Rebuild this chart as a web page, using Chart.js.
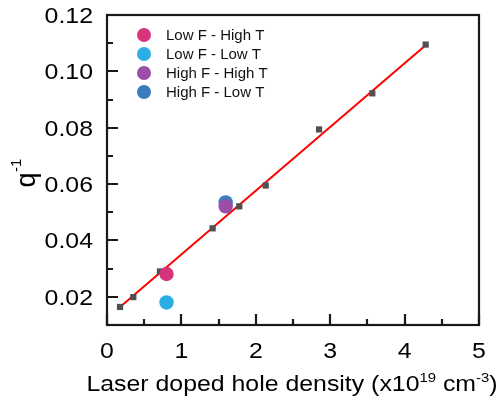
<!DOCTYPE html>
<html>
<head>
<meta charset="utf-8">
<script src="https://cdn.jsdelivr.net/npm/chart.js@4.4.0/dist/chart.umd.min.js"></script>
<style>
    html, body { margin: 0; padding: 0; background: #fff; }
    #wrap { width: 501px; height: 402px; position: relative; }
</style>
</head>
<body>
<div id="wrap"><canvas id="chart"></canvas></div>
<script>
// ============================================
// DATOS
// ============================================

// hole density (x10^19 cm^-3) and q^-1 of the reference samples
const refX = [0.175, 0.354, 0.712, 1.42, 1.778, 2.133, 2.85, 3.566, 4.283];
const refY = [0.0164, 0.0199, 0.029, 0.0443, 0.0521, 0.0595, 0.0794, 0.0922, 0.1095];

// linear fit, two ends
const fitX = [0.175, 4.283];
const fitY = [0.0164, 0.1093];

// coloured samples
const sampleLabels = ['Low F - High T', 'Low F - Low T', 'High F - High T', 'High F - Low T'];
const sampleX = [0.80, 0.80, 1.595, 1.595];
const sampleY = [0.0281, 0.018, 0.0521, 0.0535];
const sampleColors = ['#d6357b', '#2badE6', '#9a4ea9', '#3b7cbf'];

// axis ticks
const xTicks = [0, 1, 2, 3, 4, 5];
const xMinor = [0.5, 1.5, 2.5, 3.5, 4.5];
const yTicks = [0.02, 0.04, 0.06, 0.08, 0.10, 0.12];
const yMinor = [0.03, 0.05, 0.07, 0.09, 0.11];

const FONT = '"Liberation Sans", Arial, sans-serif';
const STRETCH = 1.13;
const AXIS_COLOR = 'rgb(25, 25, 25)';

// draw text with superscripts, parts = [[text, isSup], ...]
function drawRich(ctx, parts, x, y, size, align) {
    ctx.save();
    ctx.textBaseline = 'alphabetic';
    ctx.textAlign = 'left';
    let total = 0;
    parts.forEach(p => {
        ctx.font = (p[1] ? size * 0.6 : size) + 'px ' + FONT;
        total += ctx.measureText(p[0]).width;
    });
    ctx.translate(x, y);
    ctx.scale(STRETCH, 1);
    let cx = align === 'center' ? -total / 2 : 0;
    parts.forEach(p => {
        ctx.font = (p[1] ? size * 0.6 : size) + 'px ' + FONT;
        ctx.fillText(p[0], cx, p[1] ? -size * 0.42 : 0);
        cx += ctx.measureText(p[0]).width;
    });
    ctx.restore();
}

// ============================================
// PLUGINS
// ============================================

// frame and inward ticks, drawn under the marks
const axesPlugin = {
    id: 'axesFrame',
    beforeDatasetsDraw(chart) {
        const ctx = chart.ctx;
        const a = chart.chartArea;
        const xs = chart.scales.x;
        const ys = chart.scales.y;
        const L = Math.round(a.left), R = Math.round(a.right);
        const T = Math.round(a.top), B = Math.round(a.bottom);

        ctx.save();
        ctx.strokeStyle = AXIS_COLOR;
        ctx.lineWidth = 2.2;
        ctx.strokeRect(L, T, R - L, B - T);

        ctx.beginPath();
        xTicks.forEach(v => {
            const px = Math.round(xs.getPixelForValue(v));
            ctx.moveTo(px, B); ctx.lineTo(px, B - 11);
        });
        xMinor.forEach(v => {
            const px = Math.round(xs.getPixelForValue(v));
            ctx.moveTo(px, B); ctx.lineTo(px, B - 6);
        });
        yTicks.forEach(v => {
            const py = Math.round(ys.getPixelForValue(v));
            ctx.moveTo(L, py); ctx.lineTo(L + 11, py);
        });
        yMinor.forEach(v => {
            const py = Math.round(ys.getPixelForValue(v));
            ctx.moveTo(L, py); ctx.lineTo(L + 6, py);
        });
        ctx.stroke();
        ctx.restore();
    }
};

// tick labels, titles, legend
const textPlugin = {
    id: 'texts',
    afterDraw(chart) {
        const ctx = chart.ctx;
        const a = chart.chartArea;
        const xs = chart.scales.x;
        const ys = chart.scales.y;
        const L = Math.round(a.left), B = Math.round(a.bottom);

        ctx.save();
        ctx.fillStyle = '#000';
        ctx.font = '22px ' + FONT;
        xTicks.forEach(v => {
            ctx.save();
            ctx.translate(xs.getPixelForValue(v), B + 33);
            ctx.scale(STRETCH, 1);
            ctx.textAlign = 'center';
            ctx.textBaseline = 'alphabetic';
            ctx.fillText(String(v), 0, 0);
            ctx.restore();
        });
        yTicks.forEach(v => {
            ctx.save();
            ctx.translate(L - 14, ys.getPixelForValue(v) + 8);
            ctx.scale(STRETCH, 1);
            ctx.textAlign = 'right';
            ctx.textBaseline = 'alphabetic';
            ctx.fillText(v.toFixed(2), 0, 0);
            ctx.restore();
        });

        drawRich(ctx, [['Laser doped hole density (x10', false], ['19', true], [' cm', false], ['-3', true], [')', false]],
            (a.left + a.right) / 2 - 1, 391, 22, 'center');

        ctx.save();
        ctx.translate(35, (a.top + a.bottom) / 2 + 4);
        ctx.rotate(-Math.PI / 2);
        ctx.font = '27px ' + FONT;
        ctx.textAlign = 'center';
        ctx.textBaseline = 'alphabetic';
        ctx.fillText('q', -6, 0);
        ctx.font = '15px ' + FONT;
        ctx.textAlign = 'left';
        ctx.fillText('-1', 2, -14);
        ctx.restore();

        ctx.font = '15px ' + FONT;
        ctx.textAlign = 'left';
        ctx.textBaseline = 'middle';
        sampleLabels.forEach((lab, i) => {
            const ly = a.top + 20 + i * 19;
            ctx.fillStyle = sampleColors[i];
            ctx.beginPath();
            ctx.arc(a.left + 37, ly, 7, 0, Math.PI * 2);
            ctx.fill();
            ctx.fillStyle = '#111';
            ctx.fillText(lab, a.left + 59, ly + 1);
        });
        ctx.restore();
    }
};

// ============================================
// CHART
// ============================================

function buildDatasets() {
    const sets = sampleLabels.map((lab, i) => ({
        label: lab,
        data: [{ x: sampleX[i], y: sampleY[i] }],
        backgroundColor: sampleColors[i],
        borderWidth: 0,
        pointRadius: 7.2,
        pointStyle: 'circle'
    }));
    sets.push({
        label: 'ref',
        data: refX.map((x, i) => ({ x: x, y: refY[i] })),
        backgroundColor: '#505050',
        borderWidth: 0,
        pointRadius: 4.4,
        pointStyle: 'rect'
    });
    sets.push({
        label: 'fit',
        type: 'line',
        data: fitX.map((x, i) => ({ x: x, y: fitY[i] })),
        borderColor: '#ff0000',
        borderWidth: 2,
        pointRadius: 0,
        fill: false
    });
    return sets;
}

new Chart(document.getElementById('chart'), {
    type: 'scatter',
    data: { datasets: buildDatasets() },
    plugins: [axesPlugin, textPlugin],
    options: {
        responsive: true,
        maintainAspectRatio: false,
        animation: false,
        layout: { padding: { top: 15, right: 22, left: 0, bottom: 0 } },
        plugins: {
            legend: { display: false },
            tooltip: { enabled: false }
        },
        scales: {
            x: {
                type: 'linear',
                min: 0,
                max: 5,
                grid: { display: false, drawTicks: false },
                border: { display: false },
                ticks: { display: false },
                afterFit: s => { s.height = 77; }
            },
            y: {
                type: 'linear',
                min: 0.01,
                max: 0.12,
                grid: { display: false, drawTicks: false },
                border: { display: false },
                ticks: { display: false },
                afterFit: s => { s.width = 107; }
            }
        }
    }
});
</script>
</body>
</html>
